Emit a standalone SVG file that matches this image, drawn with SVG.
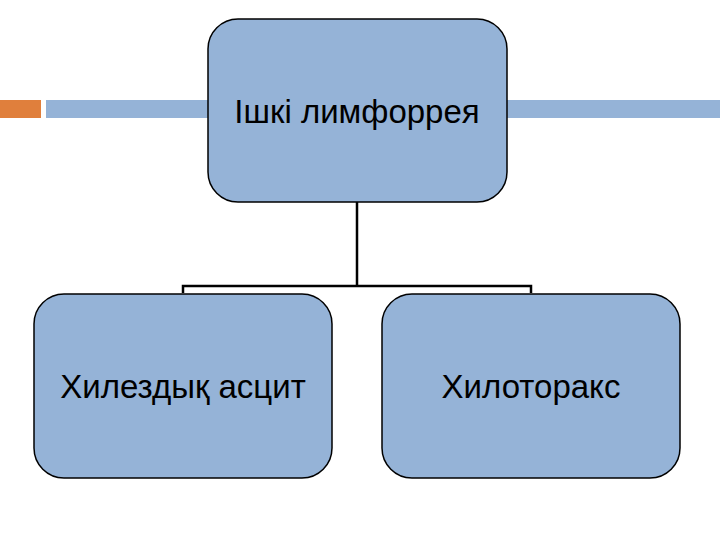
<svg xmlns="http://www.w3.org/2000/svg" width="720" height="540" viewBox="0 0 720 540">
<style>
.node rect{fill:#95b3d7;stroke:#000;stroke-width:1.5}
.node text{font-family:"Liberation Sans",Arial,sans-serif;font-size:33px;fill:#000;text-anchor:middle}
.conn{stroke:#000;stroke-width:2.5;fill:none}
</style>
<rect x="0" y="100" width="41" height="18" fill="#e07f3c"/>
<rect x="46" y="100" width="163" height="18" fill="#95b3d7"/>
<rect x="506" y="100" width="214" height="18" fill="#95b3d7"/>
<g id="connectors">
<path class="conn" d="M357 202 V286 M183 293 V286 H531 V293"/>
</g>
<g id="n1" class="node">
<rect x="208" y="19" width="299" height="183" rx="30"/>
<text x="357" y="123">Ішкі лимфоррея</text>
</g>
<g id="n2" class="node">
<rect x="34" y="294" width="298" height="184" rx="30"/>
<text x="183" y="398">Хилездық асцит</text>
</g>
<g id="n3" class="node">
<rect x="382" y="294" width="298" height="184" rx="30"/>
<text x="531" y="398">Хилоторакс</text>
</g>
</svg>
